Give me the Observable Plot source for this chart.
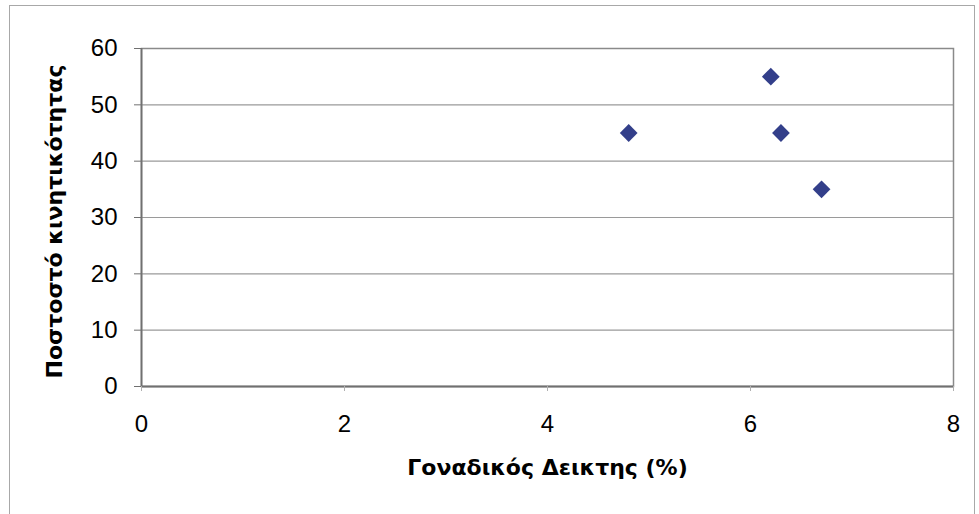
<!DOCTYPE html>
<html>
<head>
<meta charset="utf-8">
<script src="https://cdn.jsdelivr.net/npm/d3@7"></script>
<script src="https://cdn.jsdelivr.net/npm/@observablehq/plot@0.6"></script>
<style>
  html, body { margin: 0; padding: 0; background: #fff; }
  #wrap { position: relative; width: 979px; height: 514px; overflow: hidden; }
  #outer { position: absolute; left: 9px; top: 5px; width: 966px; height: 530px; border: 1px solid #a8a8a8; box-sizing: border-box; }
  #chart { position: absolute; left: 0; top: 0; }
</style>
</head>
<body>
<div id="wrap"><div id="outer"></div><div id="chart"></div></div>
<script>
// Data
const gonadIndex = [4.8, 6.2, 6.3, 6.7];       // Γοναδικός Δεικτης (%)
const motility = [45, 55, 45, 35];             // Ποστοστό κινητικότητας
const xTickValues = [0, 2, 4, 6, 8];
const yTickValues = [0, 10, 20, 30, 40, 50, 60];
const xTitle = "Γοναδικός Δεικτης (%)";
const yTitle = "Ποστοστό κινητικότητας";

const points = gonadIndex.map((x, i) => ({x, y: motility[i]}));

const chart = Plot.plot({
  width: 979,
  height: 514,
  marginLeft: 141,
  marginRight: 26,
  marginTop: 48,
  marginBottom: 128,
  style: {fontFamily: "Arial, 'Liberation Sans', sans-serif", fontSize: "24px", color: "#000", background: "transparent"},
  x: {domain: [0, 8]},
  y: {domain: [0, 60]},
  marks: [
    Plot.gridY(yTickValues, {stroke: "#9a9a9a", strokeOpacity: 1, strokeWidth: 1.2}),
    Plot.frame({stroke: "#8a8a8a", strokeWidth: 1.5}),
    Plot.ruleX([0], {stroke: "#707070", strokeWidth: 1.8}),
    Plot.ruleY([0], {stroke: "#707070", strokeWidth: 1.8}),
    Plot.axisY(yTickValues, {tickSize: 7, tickPadding: 17, stroke: "#707070", fontSize: 24, label: null}),
    Plot.axisX(xTickValues, {tickSize: 5, tickPadding: 23, stroke: "#b0b0b0", fontSize: 24, label: null}),
    Plot.dot(points, {x: "x", y: "y", symbol: "diamond2", r: 8, fill: "#333f8a", stroke: "none"}),
    Plot.text([yTitle], {frameAnchor: "left", rotate: -90, dx: -87, dy: 4, fontWeight: "bold", fontSize: 22, fontFamily: "'DejaVu Sans', sans-serif", textAnchor: "middle"}),
    Plot.text([xTitle], {frameAnchor: "bottom", dy: 88, fontWeight: "bold", fontSize: 22, fontFamily: "'DejaVu Sans', sans-serif", textAnchor: "middle"})
  ]
});
document.getElementById("chart").appendChild(chart);
</script>
</body>
</html>
